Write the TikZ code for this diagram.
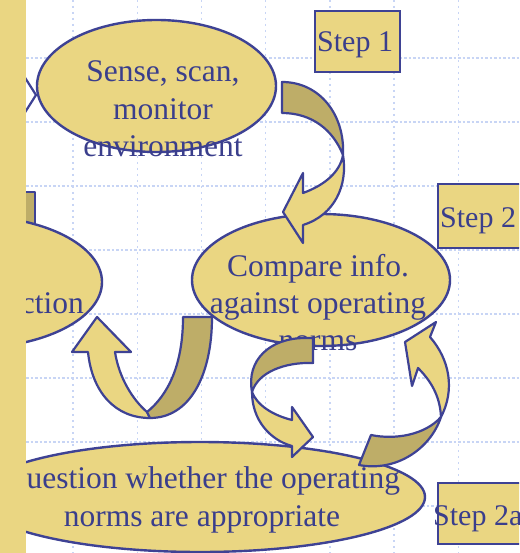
\documentclass[tikz,border=0pt]{standalone}
\usepackage{fontspec}
\setmainfont{Liberation Serif}
\usetikzlibrary{shapes.geometric}
\definecolor{paleYellow}{RGB}{234,214,130}
\definecolor{darkOlive}{RGB}{190,173,104}
\definecolor{inkBlue}{RGB}{62,66,148}
\definecolor{textBlue}{RGB}{58,62,140}
\definecolor{gridBlue}{RGB}{200,213,245}
\tikzset{
  bubble/.style={ellipse, draw=inkBlue, fill=paleYellow, line width=2.4pt, inner sep=0pt},
  lbl/.style={text=textBlue, font=\fontsize{31.5}{37}\selectfont, inner sep=0pt, anchor=base},
  steplbl/.style={text=textBlue, font=\fontsize{30}{36}\selectfont, inner sep=0pt, anchor=base west},
  stepbox/.style={draw=inkBlue, fill=paleYellow, line width=2.4pt, inner sep=0pt, anchor=north west},
  front/.style={draw=inkBlue, fill=paleYellow, line width=2.2pt, line join=round},
  back/.style={draw=inkBlue, fill=darkOlive, line width=2.2pt, line join=round},
  gridH/.style={gridBlue, line width=1.4pt, dash pattern=on 2.5pt off 2pt},
  gridV/.style={gridBlue, line width=1.4pt, dash pattern=on 2pt off 4pt},
}
\begin{document}
\begin{tikzpicture}[x=1pt,y=-1pt]
\useasboundingbox (0,0) rectangle (519,553);
\clip (0,0) rectangle (519,553);
\fill[white] (0,0) rectangle (519,553);

% dotted background grid
\foreach \gy in {58,122,186,250,314,378,442,506}
  \draw[gridH] (26,\gy) -- (519,\gy);
\foreach \gx in {73,137.2,201.4,265.6,329.8,394,458.2}
  \draw[gridV] (\gx,0) -- (\gx,553);

% incoming arrow tip at the left of the first bubble
\draw[inkBlue, line width=2.2pt, line join=round] (17,65) -- (36,95) -- (17,125);
% tail of the arrow leaving the action bubble
\draw[back] (14,192) rectangle (35,240);

% bubbles
\node[bubble, minimum width=239pt, minimum height=132pt] (sense) at (156.5,86) {};
\node[bubble, minimum width=258pt, minimum height=132pt] (compare) at (321,280) {};
\node[bubble, minimum width=260pt, minimum height=132pt] (act) at (-28,282) {};
\node[bubble, minimum width=450pt, minimum height=110pt] (question) at (200,497) {};

% bubble texts
\node[lbl] (senseA) at (163,82) {Sense, scan,};
\node[lbl] (senseB) at (163,120) {monitor};
\node[lbl] (senseC) at (163,157) {environment};
\node[lbl] (compareA) at (318,276) {Compare info.};
\node[lbl] (compareB) at (318,313) {against operating};
\node[lbl] (compareC) at (318,350) {norms};
\node[lbl, anchor=base east] (actA) at (84,313) {action};
\node[lbl] (questionA) at (202,488) {Question whether the operating};
\node[lbl] (questionB) at (202,526) {norms are appropriate};

% curved arrow: sense -> compare
\draw[front] (343,155) .. controls (348,185) and (335,215) .. (303,225)
  -- (303,243) -- (283,212) -- (303,173) -- (303,193)
  .. controls (325,185) and (340,172) .. (343,155) -- cycle;
\draw[back] (282,82) .. controls (320,82) and (345,115) .. (343,155)
  .. controls (333,130) and (312,113) .. (282,113) -- cycle;

% U-shaped arrow: compare -> action
\draw[front] (147,412) .. controls (133,400) and (119,378) .. (115,352)
  -- (131,352) -- (97,317) -- (72,352) -- (88,352)
  .. controls (92,392) and (115,418) .. (150,418) -- cycle;
\draw[back] (183,317) -- (212,317) .. controls (212,375) and (190,418) .. (150,418)
  -- (147,412) .. controls (168,395) and (183,365) .. (183,317) -- cycle;

% loop arrow: compare -> question
\draw[front] (252,392) .. controls (252,420) and (270,440) .. (292,446)
  -- (292,457) -- (313,437) -- (292,407) -- (292,420)
  .. controls (272,415) and (257,405) .. (252,392) -- cycle;
\draw[back] (313,338) -- (313,363) .. controls (285,362) and (258,372) .. (252,392)
  .. controls (246,360) and (270,338) .. (305,338) -- cycle;

% loop arrow: question -> compare
\draw[front] (441,417) .. controls (455,390) and (450,360) .. (430,337)
  -- (436,322) -- (405,342) -- (412,386) -- (418,368)
  .. controls (430,380) and (440,395) .. (441,417) -- cycle;
\draw[back] (359,465) -- (371,435) .. controls (395,440) and (425,435) .. (441,417)
  .. controls (430,450) and (395,472) .. (359,465) -- cycle;

% step labels
\node[stepbox, minimum width=85pt, minimum height=61pt] (step1) at (314,10) {};
\node[steplbl] (step1txt) at (317,52) {Step 1};
\node[stepbox, minimum width=90pt, minimum height=64pt] (step2) at (437,183) {};
\node[steplbl] (step2txt) at (440,227) {Step 2};
\node[stepbox, minimum width=90pt, minimum height=61pt] (step2a) at (437,482) {};
\node[steplbl] (step2atxt) at (433,525) {Step 2a};

% side bar
\fill[paleYellow] (0,0) rectangle (26,553);
\end{tikzpicture}
\end{document}
